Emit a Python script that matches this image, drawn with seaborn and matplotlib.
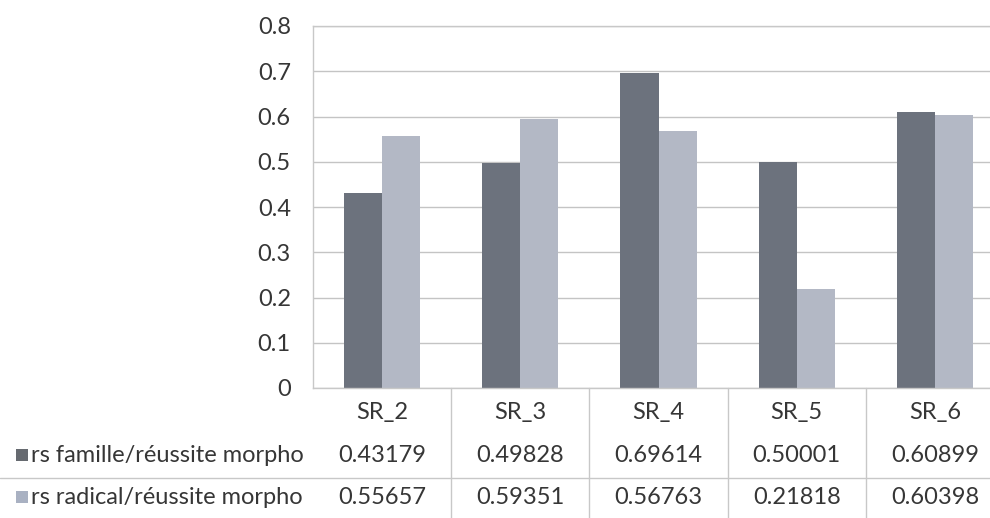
import matplotlib
matplotlib.use("Agg")
import matplotlib.pyplot as plt
import matplotlib.transforms as mtransforms
from matplotlib.patches import Rectangle
import seaborn as sns
import pandas as pd

categories = ["SR_2", "SR_3", "SR_4", "SR_5", "SR_6"]
series_names = ["rs famille/réussite morpho", "rs radical/réussite morpho"]
famille = [0.43179, 0.49828, 0.69614, 0.50001, 0.60899]
radical = [0.55657, 0.59351, 0.56763, 0.21818, 0.60398]
yticks = [0, 0.1, 0.2, 0.3, 0.4, 0.5, 0.6, 0.7, 0.8]
ytick_labels = ["0", "0.1", "0.2", "0.3", "0.4", "0.5", "0.6", "0.7", "0.8"]

bar_colors = ["#6c727d", "#b3b8c5"]
swatch_colors = ["#666a70", "#a9b1c2"]

df = pd.DataFrame({
    "cat": categories * 2,
    "value": famille + radical,
    "series": [series_names[0]] * len(categories) + [series_names[1]] * len(categories),
})

sns.set_theme(style="white")
plt.rcParams["font.family"] = ["Lato", "DejaVu Sans"]

FS = 17
W, H = 990, 518
fig = plt.figure(figsize=(W / 100, H / 100), dpi=100)
left, right, top, bottom = 313, 1004, 26, 388
ax = fig.add_axes([left / W, 1 - bottom / H, (right - left) / W, (bottom - top) / H])

sns.barplot(data=df, x="cat", y="value", hue="series", palette=bar_colors,
            width=0.55, saturation=1, ax=ax, legend=False, edgecolor="none")

ax.set_ylim(0, 0.8)
ax.set_yticks(yticks)
ax.set_yticklabels(ytick_labels, fontsize=FS, color="#363636")
ax.set_xticks([])
ax.set_xlabel("")
ax.set_ylabel("")
ax.tick_params(axis="y", length=0, pad=16)
ax.grid(axis="y", color="#c4c4c4", linewidth=1.0)
ax.set_axisbelow(True)
for s in ax.spines.values():
    s.set_color("#c8c8c8")
    s.set_linewidth(1.0)

# Data table beneath the plot: columns follow category positions
tr = mtransforms.blended_transform_factory(ax.transData, fig.transFigure)
row_y = [1 - 412 / H, 1 - 455 / H, 1 - 497 / H]
txt_color = "#363636"
for i, cat in enumerate(categories):
    ax.text(i, row_y[0], cat, transform=tr, ha="center", va="center",
            fontsize=FS, color=txt_color, clip_on=False)
    ax.text(i, row_y[1], f"{famille[i]:.5f}", transform=tr, ha="center", va="center",
            fontsize=FS, color=txt_color, clip_on=False)
    ax.text(i, row_y[2], f"{radical[i]:.5f}", transform=tr, ha="center", va="center",
            fontsize=FS, color=txt_color, clip_on=False)

# vertical separators between columns
for i in range(1, len(categories)):
    fig.add_artist(plt.Line2D([i - 0.5, i - 0.5], [1 - bottom / H, 0], transform=tr,
                              color="#c8c8c8", linewidth=1.0))
# horizontal line between the two data rows
fig.add_artist(plt.Line2D([0, 1], [1 - 478 / H, 1 - 478 / H], transform=fig.transFigure,
                          color="#c8c8c8", linewidth=1.0))

# row labels with colour keys
for j, name in enumerate(series_names):
    y = row_y[j + 1]
    fig.add_artist(Rectangle((16 / W, y - 6 / H), 12 / W, 12 / H, transform=fig.transFigure,
                             facecolor=swatch_colors[j], edgecolor="none"))
    fig.text(31 / W, y, name, ha="left", va="center", fontsize=FS, color=txt_color)

fig.savefig("out.png", dpi=100, facecolor="white")
